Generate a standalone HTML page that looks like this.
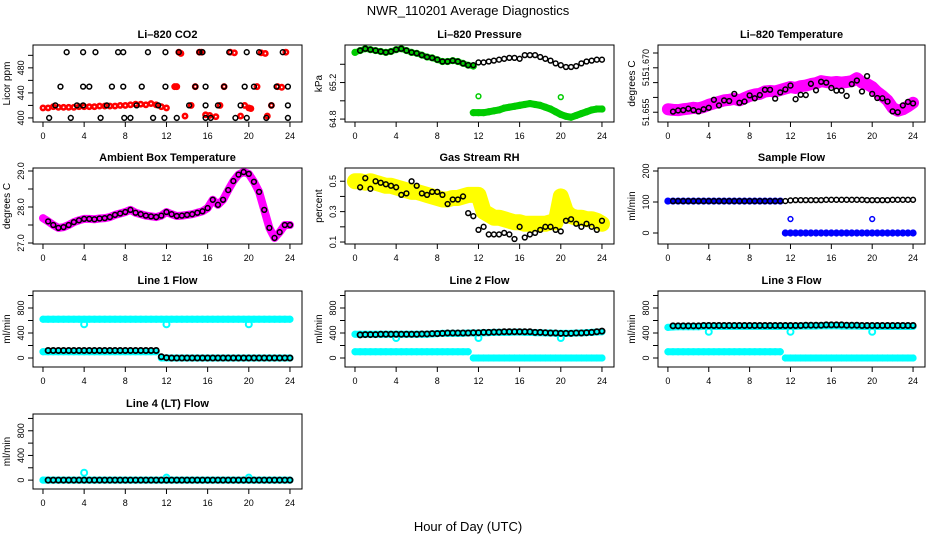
<!DOCTYPE html>
<html><head><meta charset="utf-8"><style>
html,body{margin:0;padding:0;background:#fff}
svg{display:block;font-family:"Liberation Sans",sans-serif}
</style></head><body>
<svg id="c" width="936" height="540" viewBox="0 0 936 540">
<text x="468" y="15" text-anchor="middle" font-size="13">NWR_110201  Average Diagnostics</text>
<text x="468" y="531" text-anchor="middle" font-size="13">Hour of Day (UTC)</text>
</svg>
<script>
const hours = [0,0.5,1,1.5,2,2.5,3,3.5,4,4.5,5,5.5,6,6.5,7,7.5,8,8.5,9,9.5,10,10.5,11,11.5,12,12.5,13,13.5,14,14.5,15,15.5,16,16.5,17,17.5,18,18.5,19,19.5,20,20.5,21,21.5,22,22.5,23,23.5,24];
const xTicks = [0,4,8,12,16,20,24];
// CO2
const co2BlackH = [0.6,1.2,1.7,2.3,2.7,3.3,3.9,3.9,3.9,4.5,5.1,5.6,6.2,6.7,7.3,7.8,7.8,7.9,8.5,9.1,9.6,10.2,10.7,11.2,11.8,11.9,11.9,13.0,13.2,14.2,14.8,15.2,15.5,15.8,15.8,15.8,16.3,17.0,17.6,18.1,18.7,19.2,19.6,19.8,19.8,20.5,21.0,21.7,22.2,22.7,23.3,23.8,23.8,23.8];
const co2BlackV = [400,420,450,505,400,420,420,505,450,450,505,400,420,450,505,505,450,400,400,420,450,505,400,420,400,450,505,400,505,420,450,505,505,420,450,400,400,420,450,505,400,420,450,505,400,450,505,400,420,450,505,420,450,400];
const co2RedH = [0,0.5,1,1.5,2,2.5,3,3.5,4,4.5,5,5.5,6,6.5,7,7.5,8,8.5,9,9.5,10,10.5,11,11.5,12,12.8,13,13.2,13.4,13.8,14.4,14.8,15.2,15.4,15.8,16.2,16.8,17.2,17.6,18.2,18.6,19.2,19.6,20.0,20.2,20.8,21.2,21.6,21.8,22.2,22.8,23.2,23.6];
const co2RedV = [416,416,418,417,417,417,417,418,418,418,418,419,419,419,419,420,420,421,422,422,421,423,421,418,416,450,450,505,503,403,420,450,505,505,405,404,402,420,450,505,504,403,420,416,415,450,504,503,403,420,450,449,505];
// Pressure
const presBlack = [65.53,65.55,65.57,65.56,65.55,65.54,65.53,65.54,65.56,65.57,65.55,65.53,65.52,65.5,65.48,65.47,65.45,65.43,65.43,65.44,65.43,65.41,65.39,65.39,65.42,65.42,65.43,65.44,65.45,65.46,65.47,65.47,65.46,65.5,65.5,65.5,65.48,65.46,65.44,65.41,65.39,65.37,65.37,65.38,65.41,65.43,65.44,65.45,65.45];
const presGreenHi = [65.53,65.55,65.57,65.56,65.55,65.54,65.53,65.54,65.56,65.57,65.55,65.53,65.52,65.5,65.48,65.47,65.45,65.43,65.43,65.44,65.43,65.41,65.39,65.38];
const presGreenLo = [64.87,64.87,64.87,64.88,64.89,64.9,64.92,64.93,64.94,64.95,64.96,64.97,64.96,64.95,64.93,64.91,64.88,64.85,64.83,64.82,64.84,64.86,64.88,64.9,64.91,64.91];
const presOutH = [12,20]; const presOutV = [65.05,65.04];
// Li-820 temperature
const tempBand = [51.6560,51.6558,51.6557,51.6560,51.6562,51.6565,51.6563,51.6568,51.6575,51.6580,51.6585,51.6590,51.6592,51.6595,51.6590,51.6598,51.6605,51.6610,51.6612,51.6620,51.6622,51.6620,51.6625,51.6630,51.6635,51.6632,51.6638,51.6640,51.6645,51.6648,51.6655,51.6652,51.6650,51.6652,51.6650,51.6652,51.6655,51.6665,51.6650,51.6645,51.6635,51.6618,51.6605,51.6590,51.6565,51.6555,51.6560,51.6570,51.6582];
const tempBlack = [51.6552,51.6556,51.6557,51.6562,51.6557,51.6553,51.6560,51.6565,51.6592,51.6573,51.6590,51.6588,51.6612,51.6582,51.6586,51.6607,51.6597,51.6608,51.6626,51.6626,51.6596,51.6617,51.6627,51.6640,51.6594,51.6609,51.6608,51.6646,51.6624,51.6653,51.6650,51.6632,51.6623,51.6623,51.6605,51.6645,51.6657,51.6620,51.6672,51.6612,51.6598,51.6597,51.6586,51.6553,51.6550,51.6573,51.6585,51.6580];
// Ambient box temperature
const ambient = [27.69,27.6,27.5,27.42,27.44,27.5,27.58,27.63,27.67,27.67,27.66,27.68,27.69,27.72,27.78,27.82,27.86,27.92,27.84,27.8,27.76,27.74,27.72,27.76,27.86,27.8,27.75,27.76,27.78,27.8,27.84,27.88,27.97,28.2,28.06,28.2,28.47,28.72,28.9,28.97,28.92,28.7,28.42,27.92,27.42,27.14,27.3,27.5,27.5];
// RH
const rhBand = [0.50,0.50,0.49,0.50,0.49,0.48,0.47,0.47,0.46,0.45,0.44,0.43,0.43,0.42,0.41,0.40,0.39,0.38,0.38,0.39,0.39,0.40,0.41,0.41,0.41,0.30,0.28,0.26,0.26,0.25,0.24,0.23,0.23,0.22,0.22,0.22,0.22,0.22,0.23,0.23,0.40,0.30,0.27,0.26,0.26,0.25,0.25,0.24,0.22];
const rhBlack = [0.46,0.52,0.45,0.50,0.49,0.48,0.47,0.46,0.41,0.42,0.50,0.47,0.42,0.41,0.43,0.43,0.41,0.35,0.38,0.38,0.40,0.29,0.27,0.18,0.20,0.15,0.15,0.15,0.16,0.15,0.12,0.20,0.13,0.15,0.16,0.18,0.20,0.20,0.18,0.17,0.24,0.25,0.22,0.20,0.22,0.20,0.18,0.24];
// Sample flow
const sfBlack = [103,103,103,103,103,103,103,103,103,103,103,103,103,103,103,103,103,103,103,103,103,103,103,105,106,106,106,106,106,106,107,107,107,107,107,107,107,107,106,106,106,106,106,107,107,107,107,107];
const sfBlueHi = [103,103,103,103,103,103,103,103,103,103,103,103,103,103,103,103,103,103,103,103,103,103,103];
const sfBlueLo = [0,0,0,0,0,0,0,0,0,0,0,0,0,0,0,0,0,0,0,0,0,0,0,0,0,0];
const sfOutH = [12,20]; const sfOutV = [45,45];
// Line flows
const l1CyanHi = [620,620,620,620,620,620,620,620,620,620,620,620,620,620,620,620,620,620,620,620,620,620,620,620,620,620,620,620,620,620,620,620,620,620,620,620,620,620,620,620,620,620,620,620,620,620,620,620,620];
const l1CyanLo1 = [100,100,100,100,100,100,100,100,100,100,100,100,100,100,100,100,100,100,100,100,100,100,100];
const l1CyanLo2 = [0,0,0,0,0,0,0,0,0,0,0,0,0,0,0,0,0,0,0,0,0,0,0,0,0,0];
const l1Black = [120,120,120,120,120,120,120,120,120,120,120,120,120,120,120,120,120,120,120,120,120,120,20,5,0,0,0,0,0,0,0,0,0,0,0,0,0,0,0,0,0,0,0,0,0,0,0,0];
const l1OutV = [540,540,540];
const l2CyanHi = [380,380,380,380,380,380,380,380,380,380,380,380,380,380,380,385,390,395,395,395,395,395,400,400,400,405,405,410,410,410,410,415,415,410,410,405,405,400,400,395,395,395,395,400,400,405,410,415,420];
const l2CyanLo1 = [100,100,100,100,100,100,100,100,100,100,100,100,100,100,100,100,100,100,100,100,100,100,100];
const l2CyanLo2 = [0,0,0,0,0,0,0,0,0,0,0,0,0,0,0,0,0,0,0,0,0,0,0,0,0,0];
const l2Black = [370,375,375,375,380,380,380,380,380,380,380,380,385,385,390,390,395,400,400,400,400,400,405,405,410,410,415,415,420,420,420,420,420,420,410,410,405,400,400,395,395,395,400,400,405,410,420,430];
const l2OutV = [320,320,320];
const l3CyanHi = [490,495,500,500,500,500,500,505,505,505,505,505,505,505,505,505,505,505,505,505,505,505,505,505,505,505,510,510,510,510,515,515,515,515,510,510,510,510,505,505,505,505,505,505,505,505,505,505,505];
const l3CyanLo1 = [100,100,100,100,100,100,100,100,100,100,100,100,100,100,100,100,100,100,100,100,100,100,100];
const l3CyanLo2 = [0,0,0,0,0,0,0,0,0,0,0,0,0,0,0,0,0,0,0,0,0,0,0,0,0,0];
const l3Black = [515,515,515,515,515,515,520,520,520,520,520,520,520,520,520,520,520,520,520,520,520,520,520,520,520,520,525,525,525,525,530,530,530,530,525,525,525,520,520,520,520,520,520,520,520,520,520,520];
const l3OutV = [420,420,420];
const l4Cyan = [0,0,0,0,0,0,0,0,0,0,0,0,0,0,0,0,0,0,0,0,0,0,0,0,0,0,0,0,0,0,0,0,0,0,0,0,0,0,0,0,0,0,0,0,0,0,0,0,0];
const l4Black = [0,0,0,0,0,0,0,0,0,0,0,0,0,0,0,0,0,0,0,0,0,0,0,0,0,0,0,0,0,0,0,0,0,0,0,0,0,0,0,0,0,0,0,0,0,0,0,0];
const l4OutV = [120,40,40];
const outH = [4,12,20];

const svg = document.getElementById('c');
const NS = 'http://www.w3.org/2000/svg';
const X0=[33,345,658], W=[269,269,267], Y0=[45,168,291,414], HH=[77,76,76,75];
function el(tag, attrs, parent){ const e=document.createElementNS(NS,tag); for(const k in attrs) e.setAttribute(k,attrs[k]); (parent||svg).appendChild(e); return e; }

function panel(col,row,name,title,ylab,ymin,ymax,ticks,labels){
  const l=X0[col], w=W[col], t=Y0[row], h=HH[row];
  const g = el('g',{});
  
  
  const p = {g, x:v=>l+(v+0.97)/26.14*w, y:v=>t+h-(v-ymin)/(ymax-ymin)*h};
  const marks = el('g',{},g);
  
  
  p.m = marks;
  const fr = el('rect',{x:l,y:t,width:w,height:h,fill:'none',stroke:'#000','stroke-width':1},g);
  
  
  const tt = el('text',{x:l+w/2,y:t-7,'text-anchor':'middle','font-size':11,'font-weight':'bold'},g);
  tt.textContent = title;
  
  
  const xa = el('g',{},g);
  
  
  el('line',{x1:p.x(0),x2:p.x(24),y1:t+h,y2:t+h,stroke:'#000'},xa);
  xTicks.forEach(v=>{
    el('line',{x1:p.x(v),x2:p.x(v),y1:t+h,y2:t+h+5,stroke:'#000'},xa);
    const tx = el('text',{x:p.x(v),y:t+h+17,'text-anchor':'middle','font-size':9},xa);
    tx.textContent = v;
  });
  const ya = el('g',{},g);
  
  
  el('line',{x1:l,x2:l,y1:p.y(ticks[0]),y2:p.y(ticks[ticks.length-1]),stroke:'#000'},ya);
  ticks.forEach(v=>el('line',{x1:l-5,x2:l,y1:p.y(v),y2:p.y(v),stroke:'#000'},ya));
  labels.forEach(lb=>{
    const yy = p.y(lb[0]);
    const tx = el('text',{x:l-9,y:yy,'text-anchor':'middle','font-size':9,transform:`rotate(-90 ${l-9} ${yy})`},ya);
    tx.textContent = lb[1];
  });
  const yt = el('text',{x:l-23,y:t+h/2,'text-anchor':'middle','font-size':10,transform:`rotate(-90 ${l-23} ${t+h/2})`},g);
  yt.textContent = ylab;
  
  
  return p;
}
function circles(p,hs,vs,color,name,r,sw){
  const g = el('g',{},p.m);
  
  
  vs.forEach((v,i)=>{ if(v==null) return;
    el('circle',{cx:p.x(hs[i]),cy:p.y(v),r:r||2.4,fill:'none',stroke:color,'stroke-width':sw||1.5},g);
  });
}
function band(p,hs,vs,color,name,sw){
  const pts = vs.map((v,i)=>p.x(hs[i])+','+p.y(v)).join(' ');
  const pl = el('polyline',{points:pts,fill:'none',stroke:color,'stroke-width':sw,'stroke-linecap':'round','stroke-linejoin':'round'},p.m);
  
  
  circles(p,hs,vs,color,name+'-points',2.6,2);
}
const bH = hours.slice(1);
const hiH = hours.slice(0,23);
const hiH24 = hours.slice(0,24);
const loH = hours.slice(23);
const CYAN='#00ffff', MAG='#ff00ff';

let p = panel(0,0,'co2','Li\u2013820 CO2','Licor ppm',393.5,516.5,[400,420,440,460,480,500],[[400,'400'],[440,'440'],[480,'480']]);
circles(p,co2RedH,co2RedV,'#ff0000','co2-red-series',2.2,2.5);
circles(p,co2BlackH,co2BlackV,'#000','co2-black-series');

p = panel(1,0,'pressure','Li\u2013820 Pressure','kPa',64.768,65.611,[64.8,65.0,65.2,65.4],[[64.8,'64.8'],[65.2,'65.2']]);
band(p,hiH24,presGreenHi,'#00cc00','pressure-green-upper',6);
band(p,loH,presGreenLo,'#00cc00','pressure-green-lower',7);
circles(p,presOutH,presOutV,'#00cc00','pressure-green-outliers');
circles(p,bH,presBlack.slice(1),'#000','pressure-black-series');

p = panel(2,0,'licor-temp','Li\u2013820 Temperature','degrees C',51.6517,51.6777,[51.655,51.660,51.665,51.670,51.675],[[51.655,'51.655'],[51.6655,'51'],[51.6717,'51.670']]);
band(p,hours,tempBand,MAG,'licor-temp-magenta-series',12);
circles(p,bH,tempBlack,'#000','licor-temp-black-series');

p = panel(0,1,'ambient','Ambient Box Temperature','degrees C',26.972,29.083,[27.0,27.5,28.0,28.5,29.0],[[27,'27.0'],[28,'28.0'],[29,'29.0']]);
band(p,hours,ambient,MAG,'ambient-magenta-series',8);
circles(p,bH,ambient.slice(1),'#000','ambient-black-series');

p = panel(1,1,'rh','Gas Stream RH','percent',0.087,0.587,[0.1,0.2,0.3,0.4,0.5],[[0.1,'0.1'],[0.3,'0.3'],[0.5,'0.5']]);
band(p,hours,rhBand,'#ffff00','rh-yellow-series',16);
circles(p,bH,rhBlack,'#000','rh-black-series');

p = panel(2,1,'sample-flow','Sample Flow','ml/min',-35.5,209.7,[0,100,200],[[0,'0'],[100,'100'],[200,'200']]);
band(p,hiH,sfBlueHi,'#0000ff','sample-flow-blue-upper',5);
band(p,loH,sfBlueLo,'#0000ff','sample-flow-blue-lower',5);
circles(p,sfOutH,sfOutV,'#0000ff','sample-flow-blue-outliers');
circles(p,bH,sfBlack,'#000','sample-flow-black-series');

const fT=[0,200,400,600,800,1000], fL=[[0,'0'],[400,'400'],[800,'800']];
function flow(col,row,name,title,hi,lo1,lo2,blk,outV){
  const q = panel(col,row,name,title,'ml/min',-144,1072,fT,fL);
  if(hi) band(q,hours,hi,CYAN,name+'-cyan-upper',7);
  if(lo1) band(q,hiH,lo1,CYAN,name+'-cyan-lower-am',7);
  if(lo2) band(q,loH,lo2,CYAN,name+'-cyan-lower-pm',7);
  circles(q,outH,outV,CYAN,name+'-cyan-outliers',3,2);
  circles(q,bH,blk,'#000',name+'-black-series',2.6,1.8);
}
flow(0,2,'line1-flow','Line 1 Flow',l1CyanHi,l1CyanLo1,l1CyanLo2,l1Black,l1OutV);
flow(1,2,'line2-flow','Line 2 Flow',l2CyanHi,l2CyanLo1,l2CyanLo2,l2Black,l2OutV);
flow(2,2,'line3-flow','Line 3 Flow',l3CyanHi,l3CyanLo1,l3CyanLo2,l3Black,l3OutV);
flow(0,3,'line4-flow','Line 4 (LT) Flow',l4Cyan,null,null,l4Black,l4OutV);
</script>
</body></html>
